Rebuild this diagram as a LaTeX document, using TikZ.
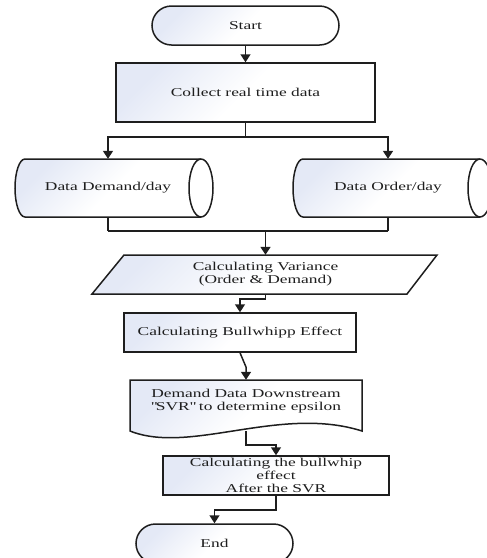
\documentclass[tikz,border=0pt]{standalone}
\usepackage{fontspec}
\setmainfont{Liberation Serif}[FakeStretch=1.45]
\usetikzlibrary{arrows.meta}
\definecolor{shadec}{HTML}{E4E9F6}
\definecolor{ink}{HTML}{1E1E1E}
\begin{document}
\begin{tikzpicture}[x=1pt,y=1pt,
  shp/.style={draw=ink, line width=1.5pt, top color=shadec, bottom color=white, middle color=white, shading angle=45},
  txt/.style={font=\fontsize{12}{13}\selectfont, text=ink, align=center, inner sep=0pt},
  conn/.style={draw=ink, line width=1.5pt},
  arr/.style={conn, -{Triangle[width=10pt,length=8pt]}},
  endline/.style={draw=ink, line width=1.5pt}
]
\useasboundingbox (0,0) rectangle (487,-558);

% shapes drawn directly
\path[shp] (25,-159) -- (201,-159) arc[start angle=90,end angle=-90,x radius=12,y radius=29]
  -- (25,-217) arc[start angle=270,end angle=90,x radius=10,y radius=29] -- cycle;
\draw[endline] (201,-159) arc[start angle=90,end angle=270,x radius=12,y radius=29];
\path[shp] (303,-159) -- (480,-159) arc[start angle=90,end angle=-90,x radius=12,y radius=29]
  -- (303,-217) arc[start angle=270,end angle=90,x radius=10,y radius=29] -- cycle;
\draw[endline] (480,-159) arc[start angle=90,end angle=270,x radius=12,y radius=29];
\path[shp] (124,-255) -- (437,-255) -- (407,-294) -- (92,-294) -- cycle;
\path[shp] (130,-380) -- (362,-380) -- (362,-431) .. controls (280,-405) and (190,-455) .. (130,-431) -- cycle;

% nodes
\node[shp, txt, rounded corners=19.5pt, minimum width=187pt, minimum height=39pt] (start) at (245.5,-25.5) {Start};
\node[shp, txt, minimum width=259pt, minimum height=59pt] (collect) at (245.5,-92.5) {Collect real time data};
\node[txt, minimum width=176pt, minimum height=58pt] (dd) at (108,-188) {Data Demand/day};
\node[txt, minimum width=176pt, minimum height=58pt] (do) at (388,-188) {Data Order/day};
\node[txt, minimum width=280pt, minimum height=39pt] (var) at (265.5,-274.5) {Calculating Variance\\(Order \& Demand)};
\node[shp, txt, minimum width=232pt, minimum height=39pt] (bw) at (240,-332.5) {Calculating Bullwhipp Effect};
\node[txt, minimum width=232pt, minimum height=51pt, text depth=11pt] (doc) at (246,-405.5) {Demand Data Downstream\\\textquotedbl SVR\textquotedbl\ to determine epsilon};
\node[shp, txt, minimum width=226pt, minimum height=39pt] (fin) at (276,-475.5) {Calculating the bullwhip\\effect\\After the SVR};
\node[shp, txt, rounded corners=19.5pt, minimum width=157pt, minimum height=39pt] (end) at (214.5,-543.5) {End};

% connectors
\draw[arr] (start) -- (collect);
\draw[conn] (collect.south) -- ++(0,-14) coordinate (split);
\draw[arr] (split) -| (dd.north);
\draw[arr] (split) -| (do.north);
\draw[conn] (dd.south) -- ++(0,-14) coordinate (mL);
\draw[conn] (do.south) -- ++(0,-14) coordinate (mR);
\draw[conn] (mL) -- (mR);
\draw[arr] (mL -| var.north) -- (var.north);
\draw[arr] (var.south) -- ++(0,-5) -| (bw.north);
\coordinate (bend1) at (246,-367);
\draw[arr] (bw.south) -- (bend1) -- (bend1 |- doc.north);
\draw[arr] (doc.south) -- ++(0,-14) -| (fin.north);
\draw[arr] (fin.south) -- ++(0,-14) -| (end.north);
\end{tikzpicture}
\end{document}
